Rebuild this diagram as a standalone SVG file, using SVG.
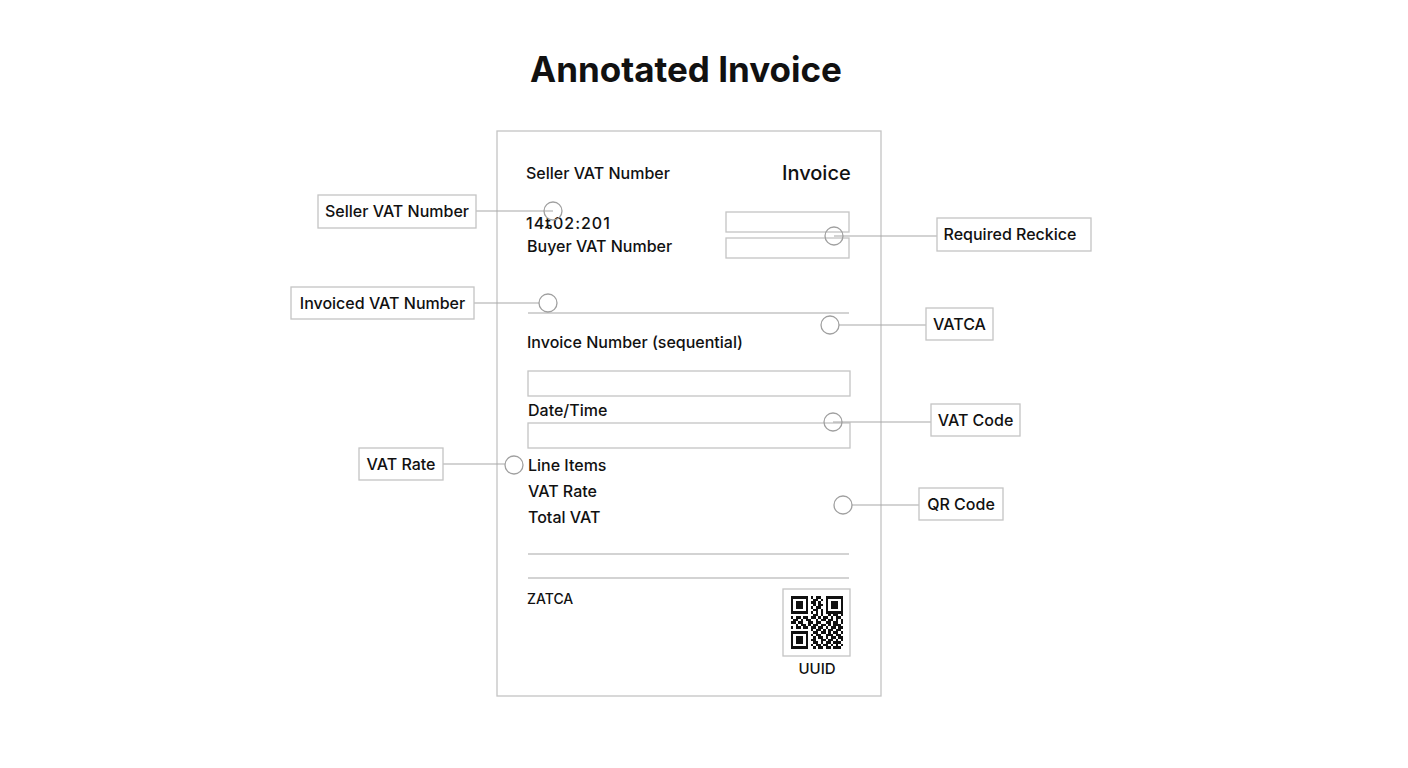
<svg xmlns="http://www.w3.org/2000/svg" width="1408" height="768" viewBox="0 0 1408 768">
<style>
text{font-family:Inter,"Liberation Sans",Arial,sans-serif;fill:#111}
.t{font-size:16px;font-weight:500}
.lb{fill:#fff;stroke:#c4c4c4;stroke-width:1.3}
.fld{fill:none;stroke:#c4c4c4;stroke-width:1.3}
.rule{stroke:#c4c4c4;stroke-width:1.3}
.con{stroke:#a8a8a8;stroke-width:1.2;fill:none}
.dot{fill:none;stroke:#a0a0a0;stroke-width:1.3}
</style>
<rect width="1408" height="768" fill="#fff"/>
<text x="686" y="82" text-anchor="middle" font-size="35" font-weight="700">Annotated Invoice</text>

<g id="invoice">
<rect x="497" y="131" width="384" height="565" class="fld"/>
<text x="526" y="179" class="t">Seller VAT Number</text>
<text x="782" y="180" font-size="20" font-weight="500">Invoice</text>
<text x="526" y="229" class="t" letter-spacing="1">14ȶ02:201</text>
<text x="527" y="252" class="t">Buyer VAT Number</text>
<rect x="726" y="212" width="123" height="20" class="fld"/>
<rect x="726" y="238" width="123" height="20" class="fld"/>
<line x1="528" y1="313" x2="849" y2="313" class="rule"/>
<text x="527" y="348" class="t">Invoice Number (sequential)</text>
<rect x="528" y="371" width="322" height="25" class="fld"/>
<text x="528" y="416" class="t">Date/Time</text>
<rect x="528" y="423" width="322" height="25" class="fld"/>
<text x="528" y="471" class="t">Line Items</text>
<text x="528" y="497" class="t">VAT Rate</text>
<text x="528" y="523" class="t">Total VAT</text>
<line x1="528" y1="554" x2="849" y2="554" class="rule"/>
<line x1="528" y1="578" x2="849" y2="578" class="rule"/>
<text x="527" y="604" font-size="14" font-weight="500">ZATCA</text>
<rect x="783" y="589" width="67" height="67" class="fld"/>
<g transform="translate(790.5 596) scale(2.5)" fill="#111" shape-rendering="crispEdges">
<path fill-rule="evenodd" d="M0 0h7v7h-7z M1 1h5v5h-5z M2 2h3v3h-3z M14 0h7v7h-7z M15 1h5v5h-5z M16 2h3v3h-3z M0 14h7v7h-7z M1 15h5v5h-5z M2 16h3v3h-3z"/>
<path d="M8 0h1v1h-1z M10 0h2v1h-2z M9 1h2v1h-2z M12 1h1v1h-1z M8 2h2v1h-2z M11 2h1v1h-1z M9 3h1v1h-1z M11 3h2v1h-2z M8 4h1v1h-1z M10 4h2v1h-2z M9 5h2v1h-2z M12 5h1v1h-1z M8 6h1v1h-1z M10 6h1v1h-1z M12 6h1v1h-1z M9 7h2v1h-2z M12 7h1v1h-1z M15 7h1v1h-1z M17 7h2v1h-2z M20 7h1v1h-1z M0 8h1v1h-1z M2 8h2v1h-2z M5 8h2v1h-2z M8 8h2v1h-2z M11 8h1v1h-1z M13 8h2v1h-2z M16 8h1v1h-1z M18 8h2v1h-2z M1 9h2v1h-2z M4 9h1v1h-1z M6 9h2v1h-2z M10 9h1v1h-1z M12 9h2v1h-2z M15 9h2v1h-2z M18 9h1v1h-1z M20 9h1v1h-1z M0 10h2v1h-2z M3 10h2v1h-2z M7 10h2v1h-2z M10 10h2v1h-2z M14 10h2v1h-2z M17 10h2v1h-2z M20 10h1v1h-1z M2 11h1v1h-1z M4 11h2v1h-2z M7 11h1v1h-1z M9 11h2v1h-2z M12 11h2v1h-2z M15 11h1v1h-1z M17 11h3v1h-3z M0 12h1v1h-1z M2 12h2v1h-2z M5 12h2v1h-2z M8 12h2v1h-2z M11 12h2v1h-2z M14 12h1v1h-1z M16 12h2v1h-2z M19 12h2v1h-2z M8 13h1v1h-1z M10 13h2v1h-2z M13 13h1v1h-1z M15 13h2v1h-2z M18 13h2v1h-2z M9 14h2v1h-2z M12 14h2v1h-2z M15 14h1v1h-1z M17 14h2v1h-2z M20 14h1v1h-1z M8 15h1v1h-1z M10 15h2v1h-2z M14 15h3v1h-3z M18 15h2v1h-2z M9 16h1v1h-1z M11 16h2v1h-2z M14 16h1v1h-1z M16 16h2v1h-2z M19 16h2v1h-2z M8 17h2v1h-2z M12 17h2v1h-2z M15 17h2v1h-2z M18 17h1v1h-1z M20 17h1v1h-1z M9 18h2v1h-2z M12 18h1v1h-1z M14 18h2v1h-2z M17 18h3v1h-3z M8 19h1v1h-1z M10 19h2v1h-2z M13 19h2v1h-2z M16 19h1v1h-1z M18 19h1v1h-1z M20 19h1v1h-1z M9 20h1v1h-1z M11 20h2v1h-2z M14 20h2v1h-2z M17 20h3v1h-3z"/>
</g>
<text x="817" y="674" text-anchor="middle" font-size="15" font-weight="500">UUID</text>
</g>

<g id="connectors">
<line x1="476" y1="211" x2="553" y2="211" class="con"/>
<circle cx="553" cy="211" r="9" class="dot"/>
<line x1="834" y1="236" x2="937" y2="236" class="con"/>
<circle cx="834" cy="236" r="9" class="dot"/>
<line x1="474" y1="303" x2="539" y2="303" class="con"/>
<circle cx="548" cy="303" r="9" class="dot"/>
<line x1="839" y1="325" x2="926" y2="325" class="con"/>
<circle cx="830" cy="325" r="9" class="dot"/>
<line x1="833" y1="422" x2="931" y2="422" class="con"/>
<circle cx="833" cy="422" r="9" class="dot"/>
<line x1="443" y1="464" x2="505" y2="464" class="con"/>
<circle cx="514" cy="465" r="9" class="dot"/>
<line x1="852" y1="505" x2="919" y2="505" class="con"/>
<circle cx="843" cy="505" r="9" class="dot"/>
</g>

<g id="label-seller-vat">
<rect x="318" y="195" width="158" height="33" class="lb"/>
<text x="397" y="217" text-anchor="middle" class="t">Seller VAT Number</text>
</g>
<g id="label-required-reckice">
<rect x="937" y="218" width="154" height="33" class="lb"/>
<text x="1010" y="240" text-anchor="middle" class="t">Required Reckice</text>
</g>
<g id="label-invoiced-vat">
<rect x="291" y="287" width="183" height="32" class="lb"/>
<text x="382.5" y="309" text-anchor="middle" class="t">Invoiced VAT Number</text>
</g>
<g id="label-vatca">
<rect x="926" y="308" width="67" height="32" class="lb"/>
<text x="959.5" y="330" text-anchor="middle" class="t">VATCA</text>
</g>
<g id="label-vat-code">
<rect x="931" y="404" width="89" height="32" class="lb"/>
<text x="975.5" y="426" text-anchor="middle" class="t">VAT Code</text>
</g>
<g id="label-vat-rate">
<rect x="359" y="448" width="84" height="32" class="lb"/>
<text x="401" y="470" text-anchor="middle" class="t">VAT Rate</text>
</g>
<g id="label-qr-code">
<rect x="919" y="488" width="84" height="32" class="lb"/>
<text x="961" y="510" text-anchor="middle" class="t">QR Code</text>
</g>
</svg>
